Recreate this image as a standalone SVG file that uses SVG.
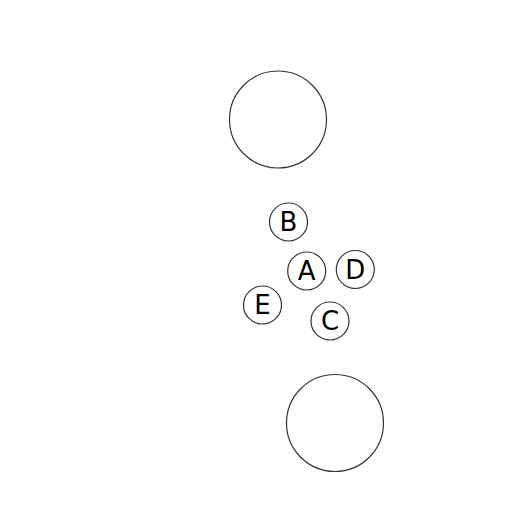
<svg xmlns="http://www.w3.org/2000/svg" width="512" height="512" viewBox="0 0 512 512">
<style>
.n{fill:#fff;stroke:#333;stroke-width:1.2}
.t{font-family:"DejaVu Sans",sans-serif;font-size:26px;fill:#000;text-anchor:middle;dominant-baseline:central}
</style>
<rect width="512" height="512" fill="#fff"/>
<g id="connectors"></g>
<g id="big1"><circle class="n" cx="278" cy="119.5" r="48.5"/></g>
<g id="big2"><circle class="n" cx="335" cy="423" r="48.5"/></g>
<g id="B"><circle class="n" cx="288.5" cy="222" r="19"/><text class="t" x="288.5" y="222">B</text></g>
<g id="A"><circle class="n" cx="306.7" cy="271" r="19"/><text class="t" x="306.7" y="271">A</text></g>
<g id="D"><circle class="n" cx="355.3" cy="269.5" r="19"/><text class="t" x="355.3" y="269.5">D</text></g>
<g id="E"><circle class="n" cx="262.5" cy="305" r="19"/><text class="t" x="262.5" y="305">E</text></g>
<g id="C"><circle class="n" cx="330" cy="321" r="19"/><text class="t" x="330" y="321">C</text></g>
</svg>
